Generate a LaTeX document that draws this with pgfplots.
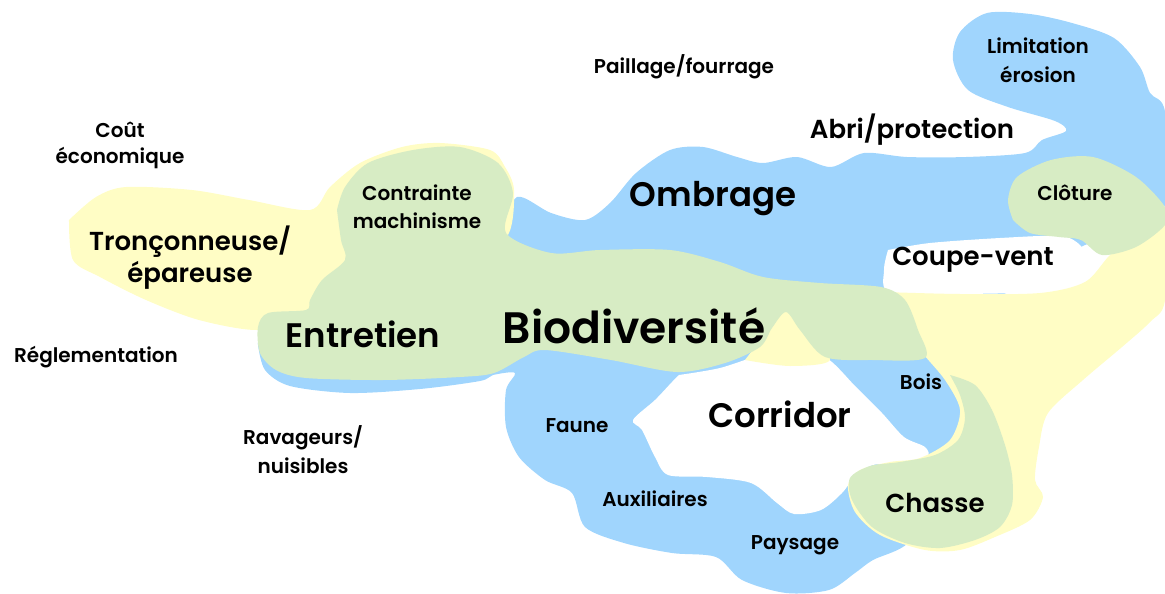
\documentclass[border=0pt]{standalone}
\usepackage{pgfplots}
\pgfplotsset{compat=1.18}
\usepackage{fontspec}
\setmainfont{Poppins}[BoldFont={Poppins SemiBold}]
\definecolor{cblue}{HTML}{A0D5FD}
\definecolor{cyel}{HTML}{FFFDC5}
\definecolor{cgreen}{HTML}{D7ECC4}

\pgfplotsset{
  blob/.style={draw=none, smooth, tension=0.5, mark=none},
  words/.style={draw=none, mark=none, point meta=explicit symbolic,
    nodes near coords, nodes near coords align={center},
    every node near coord/.append style={anchor=center, inner sep=0pt, text=black, font=#1}},
}

\begin{document}
\begin{tikzpicture}
\begin{axis}[width=1165pt, height=594pt, scale only axis,
  xmin=0, xmax=1165, ymin=0, ymax=594, y dir=reverse, hide axis]

% keeps the whole frame in the bounding box
\addplot[draw=none, mark=none] coordinates {(0,0)(1165,594)};

% blue area
\addplot[blob, fill=cblue] coordinates {
(258,345)(262,322)(290,305)(380,270)(470,245)(500,233)(517,197)(551,213)(585,220)
(610,203)(636,173)(670,150)(703,147)(737,157)(763,163)(797,157)(831,167)(864,153)
(907,157)(966,157)(1025,153)(1042,140)(1066,131)(1055,121)(1008,107)(968,90)
(953,60)(960,32)(987,13)(1030,14)(1072,23)(1114,38)(1140,67)(1150,93)(1165,112)
(1165,205)(1120,245)(1085,245)(1000,296)(945,305)(935,340)(947,363)(980,395)
(998,425)(990,455)(960,475)(930,500)(908,543)(873,560)(855,573)(829,590)(786,593)
(742,580)(716,557)(672,553)(624,543)(585,527)(572,493)(545,480)(519,457)(506,427)
(506,390)(515,373)(493,375)(480,381)(420,389)(350,393)(290,386)(265,370)(258,345)} -- cycle;

% holes
\addplot[blob, fill=white] coordinates {
(679,375)(720,368)(760,355)(786,350)(825,357)(856,387)(882,413)(904,437)(925,447)
(927,457)(899,463)(873,465)(856,475)(842,493)(821,510)(794,514)(777,503)(751,483)
(707,477)(668,475)(655,457)(642,430)(633,420)(655,400)(672,382)(679,375)} -- cycle;
\addplot[blob, fill=white] coordinates {
(888,250)(930,243)(1000,238)(1060,236)(1080,245)(1088,262)(1080,285)(1040,292)
(960,294)(890,293)(884,270)(888,250)} -- cycle;

% yellow areas
\addplot[blob, fill=cyel] coordinates {
(69,220)(96,197)(126,187)(192,190)(249,200)(310,210)(330,187)(360,163)(402,147)
(440,143)(490,150)(505,167)(514,190)(508,235)(470,265)(380,300)(300,318)(257,330)
(199,320)(146,300)(100,277)(73,260)(69,220)} -- cycle;
\addplot[blob, fill=cyel] coordinates {
(884,292)(960,294)(1040,293)(1085,282)(1110,255)(1140,230)(1165,212)(1165,300)
(1150,322)(1122,347)(1083,380)(1048,413)(1039,447)(1035,480)(1043,497)(1030,520)
(995,537)(960,550)(925,550)(880,535)(855,512)(848,485)(860,470)(890,462)(920,458)
(950,440)(960,410)(945,380)(920,350)(900,320)(884,292)} -- cycle;
\addplot[blob, fill=cyel] coordinates {
(745,360)(768,330)(786,306)(805,328)(830,360)(790,366)(745,360)} -- cycle;

% green areas
\addplot[blob, fill=cgreen] coordinates {
(337,210)(345,187)(368,163)(413,150)(460,147)(498,163)(513,193)(506,233)(551,253)
(600,250)(670,250)(720,262)(763,277)(820,283)(881,287)(905,300)(918,330)(925,358)
(873,360)(825,357)(800,330)(786,312)(772,328)(760,347)(725,363)(677,372)(611,360)
(545,350)(524,357)(494,373)(460,377)(383,380)(306,378)(276,370)(260,353)(258,327)
(268,313)(306,310)(310,300)(322,280)(345,260)(341,240)(337,210)} -- cycle;
\addplot[blob, fill=cgreen] coordinates {
(1013,220)(1008,200)(1017,177)(1051,160)(1093,157)(1136,177)(1165,207)(1165,225)
(1136,247)(1102,255)(1081,240)(1059,237)(1030,233)(1013,220)} -- cycle;
\addplot[blob, fill=cgreen] coordinates {
(950,375)(975,385)(992,410)(1005,445)(1012,475)(1012,505)(1000,527)(975,540)
(940,548)(905,543)(872,527)(852,500)(850,478)(870,466)(900,462)(935,455)(958,440)
(965,418)(960,395)(950,375)} -- cycle;

% words
\addplot[words={\bfseries\fontsize{20}{20}\selectfont}] coordinates {
(684,67)[Paillage/fourrage] (120,130)[Coût] (120,158)[économique]
(1038,46)[Limitation] (1038,74)[érosion] (417,193)[Contrainte] (417,221)[machinisme]
(1075,193)[Clôture] (96,357)[Réglementation] (921,382)[Bois]
(303,438)[Ravageurs/] (303,466)[nuisibles] (577,426)[Faune]
(655,499)[Auxiliaires] (795,545)[Paysage]};
\addplot[words={\bfseries\fontsize{26}{26}\selectfont}] coordinates {
(912,130)[Abri/protection] (190,242)[Tronçonneuse/] (190,275)[épareuse]
(973,260)[Coupe-vent] (935,503)[Chasse]};
\addplot[words={\bfseries\fontsize{34}{34}\selectfont}] coordinates {
(713,199)[Ombrage] (363,334)[Entretien] (780,414)[Corridor]};
\addplot[words={\bfseries\fontsize{44}{44}\selectfont}] coordinates {
(634,326)[Biodiversité]};
\end{axis}
\end{tikzpicture}
\end{document}
